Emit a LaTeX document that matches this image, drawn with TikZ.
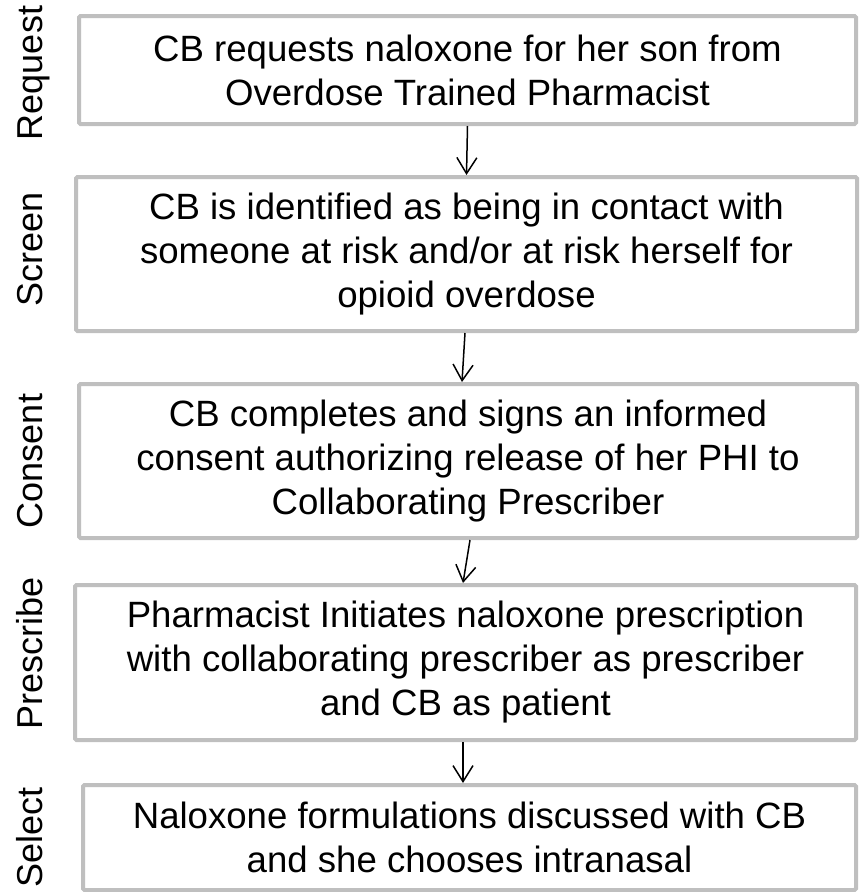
\documentclass[tikz,border=0pt]{standalone}
\usepackage{fontspec}
\setmainfont{Liberation Sans}
\usetikzlibrary{arrows.meta}

\tikzset{
  stepbox/.style={draw=black!25, line width=4pt, rounded corners=1.5pt, fill=white,
    align=center, inner sep=0pt, font=\fontsize{36.6}{44}\selectfont},
  sidelabel/.style={rotate=90, anchor=base, inner sep=0pt, font=\fontsize{36}{44}\selectfont},
  flow/.style={line width=1.5pt, -{Straight Barb[length=16pt, width=20pt, line width=1.5pt]}}
}

\begin{document}
\begin{tikzpicture}[x=1pt, y=-1pt]
\useasboundingbox (0,0) rectangle (861,892);

% process steps
\node[stepbox, minimum width=777pt, minimum height=108pt] (b1) at (467.5,70)
  {CB requests naloxone for her son from\\Overdose Trained Pharmacist};
\node[stepbox, minimum width=781pt, minimum height=154pt] (b2) at (466.5,254)
  {CB is identified as being in contact with\\someone at risk and/or at risk herself for\\opioid overdose};
\node[stepbox, minimum width=778pt, minimum height=154pt] (b3) at (468,461)
  {CB completes and signs an informed\\consent authorizing release of her PHI to\\Collaborating Prescriber};
\node[stepbox, minimum width=781pt, minimum height=155pt] (b4) at (465.5,662.5)
  {Pharmacist Initiates naloxone prescription\\with collaborating prescriber as prescriber\\and CB as patient};
\node[stepbox, minimum width=773pt, minimum height=105pt] (b5) at (469.5,837.5)
  {Naloxone formulations discussed with CB\\and she chooses intranasal};

% stage names
\node[sidelabel] (l1) at (42,73) {Request};
\node[sidelabel] (l2) at (42,249) {Screen};
\node[sidelabel] (l3) at (42,461) {Consent};
\node[sidelabel] (l4) at (42,653) {Prescribe};
\node[sidelabel] (l5) at (42,837) {Select};

% connectors
\draw[flow] (b1.south) -- (b2.north);
\draw[flow] ([xshift=-1.5pt]b2.south) -- ([xshift=-6pt]b3.north);
\draw[flow] ([xshift=2pt]b3.south) -- ([xshift=-2.5pt]b4.north);
\draw[flow] ([xshift=-2.5pt]b4.south) -- ([xshift=-6.5pt]b5.north);
\end{tikzpicture}
\end{document}
